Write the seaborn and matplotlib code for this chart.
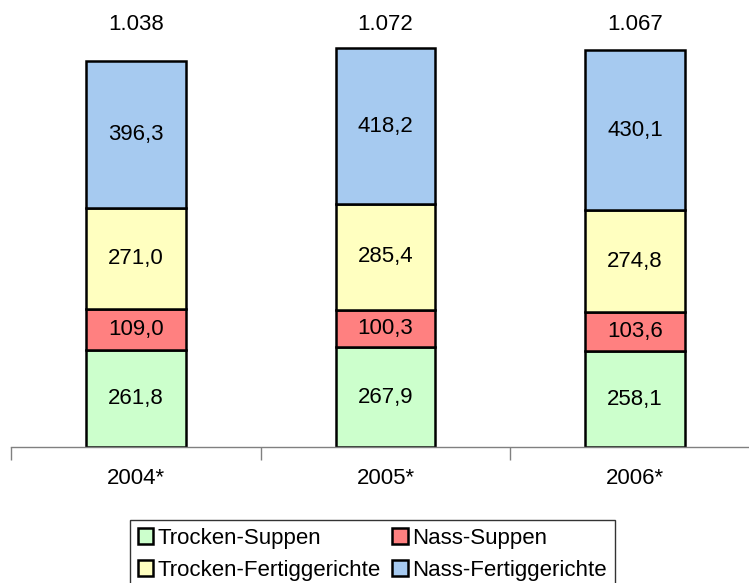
import numpy as np
import pandas as pd
import seaborn as sns
import matplotlib.pyplot as plt

years = ["2004*", "2005*", "2006*"]
trocken_suppen = [261.8, 267.9, 258.1]
nass_suppen = [109.0, 100.3, 103.6]
trocken_fertig = [271.0, 285.4, 274.8]
nass_fertig = [396.3, 418.2, 430.1]
totals = ["1.038", "1.072", "1.067"]

series = [
    ("Trocken-Suppen", trocken_suppen, "#CCFFCC"),
    ("Nass-Suppen", nass_suppen, "#FF8080"),
    ("Trocken-Fertiggerichte", trocken_fertig, "#FFFFC0"),
    ("Nass-Fertiggerichte", nass_fertig, "#A6CAF0"),
]

sns.set_style("white")
plt.rcParams["font.family"] = ["Liberation Sans", "DejaVu Sans"]
plt.rcParams["font.size"] = 16
plt.rcParams["text.color"] = "black"
plt.rcParams["xtick.color"] = "black"

fig = plt.figure(figsize=(7.49, 5.83), dpi=100)
ax = fig.add_axes([11 / 749, 136 / 583, 1.0, 437 / 583])

bottom = np.zeros(len(years))
handles = {}
for name, vals, col in series:
    sns.barplot(x=years, y=vals, bottom=bottom, color=col, width=0.4,
                saturation=1, edgecolor="black", linewidth=1.8, ax=ax)
    cont = ax.containers[-1]
    handles[name] = cont
    ax.bar_label(cont, labels=[f"{v:.1f}".replace(".", ",") for v in vals],
                 label_type="center", fontsize=16)
    bottom = bottom + np.array(vals)

for i, t in enumerate(totals):
    ax.text(i, 1135, t, ha="center", va="center", fontsize=16)

ax.set_xlim(-0.5, 2.5)
ax.set_ylim(0, 1175)
ax.set_yticks([])
for s in ["top", "right", "left"]:
    ax.spines[s].set_visible(False)
ax.spines["bottom"].set_color("#808080")
ax.spines["bottom"].set_linewidth(1.0)
ax.set_xticks([-0.5, 0.5, 1.5, 2.5], minor=True)
ax.tick_params(axis="x", which="minor", direction="out", length=9,
               color="#808080", width=1.0, bottom=True)
ax.tick_params(axis="x", which="major", length=0, pad=15, labelsize=16)
ax.set_xlabel("")

order = ["Trocken-Suppen", "Trocken-Fertiggerichte", "Nass-Suppen", "Nass-Fertiggerichte"]
leg = fig.legend([handles[n] for n in order], order, loc="upper left",
                 bbox_to_anchor=(130 / 749, 1 - 520 / 583), ncol=2,
                 fontsize=16, frameon=True, fancybox=False,
                 handlelength=0.7, handleheight=0.7, handletextpad=0.2,
                 columnspacing=0.5, labelspacing=0.5, borderpad=0.35,
                 borderaxespad=0)
leg.get_frame().set_edgecolor("black")
leg.get_frame().set_linewidth(1.0)

fig.savefig("out.png", dpi=100)
